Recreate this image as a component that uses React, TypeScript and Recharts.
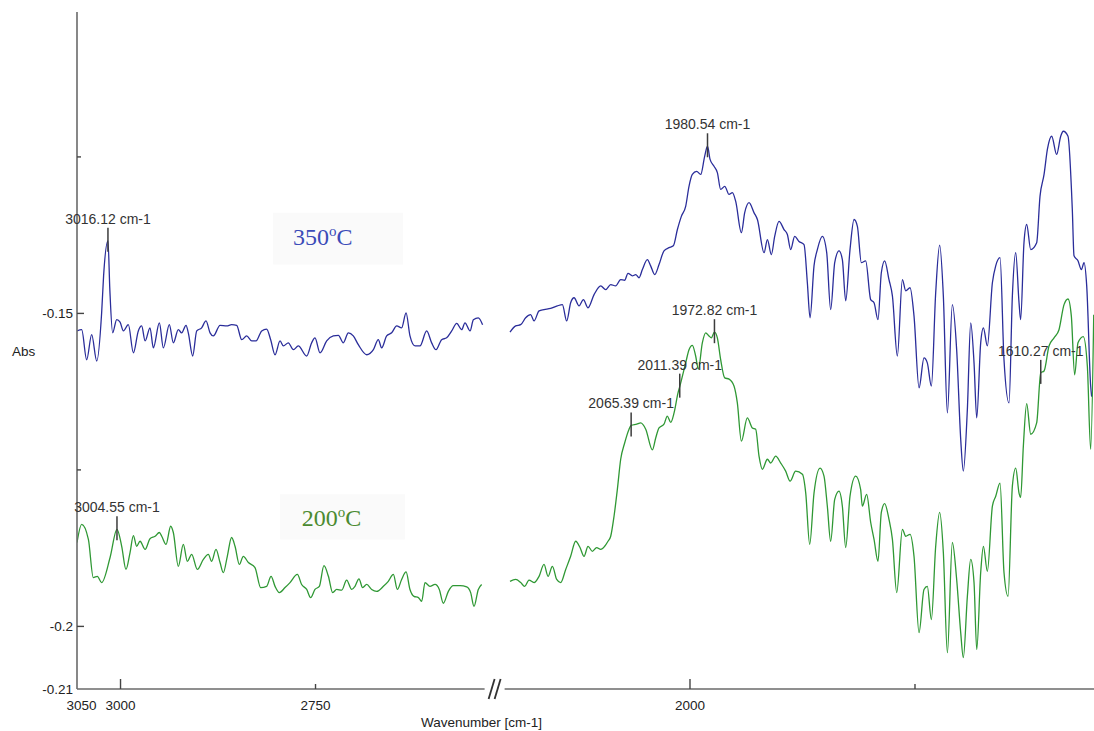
import {
  Line,
  LineChart,
  ReferenceArea,
  ReferenceDot,
  ReferenceLine,
  XAxis,
  YAxis,
} from "recharts"

type Point = [number, number]

// 350 °C spectrum, high wavenumber window (cm-1, Abs)
const abs350High: Point[] = [
  [3055.8, -0.1528], [3049.8, -0.1526], [3043.4, -0.1574], [3037.0, -0.1534],
  [3030.5, -0.1576], [3024.2, -0.1499], [3021.7, -0.144], [3016.12, -0.1384],
  [3013.7, -0.1462], [3010.1, -0.1531], [3004.9, -0.151], [3000.6, -0.1514],
  [2996.3, -0.1528], [2990.0, -0.1518], [2983.5, -0.1563], [2977.2, -0.1528],
  [2972.9, -0.152], [2968.5, -0.1544], [2962.2, -0.1523], [2957.9, -0.1555],
  [2950.2, -0.1515], [2945.1, -0.1555], [2937.4, -0.1518], [2932.3, -0.1547],
  [2925.9, -0.1526], [2921.6, -0.1531], [2916.0, -0.1519], [2913.1, -0.1531],
  [2907.5, -0.1568], [2902.3, -0.1528], [2896.0, -0.1523], [2890.4, -0.1512],
  [2885.2, -0.1531], [2881.0, -0.1536], [2872.4, -0.1519], [2863.9, -0.152],
  [2857.6, -0.1518], [2851.1, -0.1519], [2844.6, -0.1542], [2838.3, -0.1536],
  [2831.8, -0.1544], [2826.3, -0.1544], [2819.0, -0.1528], [2812.7, -0.1525],
  [2807.5, -0.1542], [2801.9, -0.1566], [2795.5, -0.1544], [2791.2, -0.1552],
  [2784.9, -0.1547], [2778.4, -0.1558], [2772.1, -0.1552], [2761.3, -0.1568],
  [2755.0, -0.1547], [2750.7, -0.1539], [2744.2, -0.1563], [2735.7, -0.1544],
  [2727.2, -0.1536], [2720.7, -0.1535], [2714.4, -0.1547], [2707.9, -0.1531],
  [2701.6, -0.1536], [2695.1, -0.155], [2684.4, -0.1566], [2675.8, -0.1558],
  [2669.5, -0.1542], [2665.2, -0.1555], [2658.8, -0.1536], [2652.4, -0.1531],
  [2645.9, -0.152], [2639.6, -0.1523], [2633.9, -0.1499], [2628.9, -0.1536],
  [2622.4, -0.1552], [2616.1, -0.1552], [2607.5, -0.1528], [2601.1, -0.1547],
  [2595.5, -0.1558], [2588.3, -0.1542], [2581.9, -0.1539], [2575.4, -0.1528],
  [2569.0, -0.1516], [2562.6, -0.1526], [2558.4, -0.1515], [2551.9, -0.1528],
  [2547.6, -0.151], [2541.3, -0.1507], [2535.8, -0.1518],
]

// 350 °C spectrum, low wavenumber window
const abs350Low: Point[] = [
  [2200, -0.153], [2193.7, -0.152], [2188.1, -0.1518], [2182.6, -0.1507],
  [2177.0, -0.1502], [2173.3, -0.1512], [2167.7, -0.1496], [2162.2, -0.1494],
  [2154.8, -0.1492], [2147.4, -0.1488], [2141.8, -0.1486], [2137.0, -0.1512],
  [2132.6, -0.1483], [2128.8, -0.1475], [2123.3, -0.1488], [2118.5, -0.1478],
  [2113.3, -0.1491], [2106.6, -0.147], [2099.2, -0.1456], [2093.7, -0.1462],
  [2088.1, -0.1454], [2082.6, -0.1456], [2077.0, -0.1446], [2072.6, -0.1447],
  [2068.9, -0.1436], [2064.0, -0.144], [2060.3, -0.1438], [2056.6, -0.1443],
  [2052.9, -0.143], [2047.4, -0.1414], [2043.7, -0.1424], [2039.2, -0.1438],
  [2034.4, -0.1422], [2028.9, -0.14], [2023.3, -0.1395], [2018.5, -0.1392],
  [2014.0, -0.1366], [2009.6, -0.1345], [2004.8, -0.1329], [2001.1, -0.1297],
  [1997.4, -0.1278], [1992.6, -0.1273], [1988.1, -0.1278], [1983.7, -0.1249],
  [1980.54, -0.1233], [1977.7, -0.1254], [1973.3, -0.1265], [1969.6, -0.1275],
  [1965.9, -0.1302], [1961.4, -0.1297], [1956.6, -0.131], [1952.9, -0.1307],
  [1949.2, -0.1321], [1942.9, -0.1371], [1939.2, -0.1339], [1934.4, -0.1323],
  [1928.9, -0.1339], [1925.1, -0.135], [1917.7, -0.1403], [1914.0, -0.1382],
  [1909.6, -0.1406], [1905.9, -0.1377], [1901.1, -0.1353], [1895.5, -0.1366],
  [1891.8, -0.1374], [1888.1, -0.1398], [1883.7, -0.1377], [1878.9, -0.1385],
  [1873.3, -0.139], [1869.6, -0.1451], [1866.6, -0.1507], [1862.2, -0.1424],
  [1858.5, -0.1398], [1852.9, -0.1377], [1848.1, -0.1403], [1843.7, -0.1494],
  [1839.2, -0.1419], [1834.4, -0.14], [1830.7, -0.1414], [1827.0, -0.148],
  [1822.2, -0.1398], [1817.7, -0.135], [1814.0, -0.1361], [1809.6, -0.1419],
  [1804.8, -0.1416], [1799.2, -0.1478], [1795.5, -0.1483], [1791.1, -0.151],
  [1787.4, -0.1435], [1783.7, -0.1416], [1778.9, -0.1446], [1775.1, -0.1472],
  [1769.6, -0.1568], [1764.0, -0.1446], [1760.3, -0.1464], [1755.5, -0.1459],
  [1751.1, -0.1504], [1745.5, -0.1619], [1740.0, -0.1571], [1736.3, -0.1579],
  [1731.8, -0.1616], [1727.0, -0.1467], [1722.6, -0.1391], [1718.5, -0.1472],
  [1714.0, -0.1659], [1708.5, -0.1486], [1703.7, -0.1558], [1699.2, -0.1701],
  [1696.3, -0.1752], [1691.8, -0.1653], [1688.1, -0.1515], [1684.4, -0.1579],
  [1681.4, -0.1667], [1677.0, -0.1547], [1674.0, -0.1523], [1669.6, -0.1552],
  [1664.0, -0.1451], [1660.3, -0.1424], [1655.5, -0.1411], [1651.1, -0.1574],
  [1645.5, -0.1643], [1641.8, -0.1472], [1638.1, -0.1403], [1634.4, -0.1483],
  [1632.6, -0.151], [1628.9, -0.1387], [1625.9, -0.1358], [1621.4, -0.1398],
  [1614.8, -0.1387], [1611.1, -0.1313], [1606.6, -0.1278], [1602.9, -0.1238],
  [1598.1, -0.1217], [1592.6, -0.1246], [1588.1, -0.1217], [1585.2, -0.1209],
  [1580.0, -0.1217], [1575.2, -0.1334], [1573.3, -0.1408], [1568.9, -0.1416],
  [1565.1, -0.143], [1562.2, -0.1419], [1559.2, -0.1456], [1554.8, -0.1616],
  [1553.7, -0.1633],
]

// 200 °C spectrum, high wavenumber window
const abs200High: Point[] = [
  [3055.8, -0.1866], [3049.8, -0.1837], [3041.2, -0.1861], [3034.9, -0.1922],
  [3029.7, -0.192], [3024.2, -0.193], [3013.4, -0.189], [3004.55, -0.1845],
  [2998.5, -0.1872], [2993.0, -0.1909], [2987.8, -0.1882], [2983.5, -0.1855],
  [2979.3, -0.1872], [2975.0, -0.1864], [2968.5, -0.1877], [2962.2, -0.186],
  [2955.7, -0.1856], [2950.2, -0.185], [2947.2, -0.1856], [2941.7, -0.1869],
  [2935.7, -0.184], [2932.3, -0.185], [2925.9, -0.1904], [2919.5, -0.1869],
  [2914.3, -0.1896], [2908.8, -0.1885], [2901.5, -0.1909], [2893.8, -0.1893],
  [2887.4, -0.1885], [2883.2, -0.1896], [2877.6, -0.1877], [2872.4, -0.1898],
  [2868.2, -0.1914], [2863.1, -0.1888], [2857.6, -0.1858], [2853.2, -0.1872],
  [2847.6, -0.1901], [2842.6, -0.1888], [2836.1, -0.1898], [2827.6, -0.1906],
  [2820.3, -0.1938], [2812.7, -0.1936], [2807.0, -0.192], [2801.9, -0.1936],
  [2796.4, -0.1946], [2789.1, -0.1938], [2782.7, -0.193], [2773.3, -0.1917],
  [2767.8, -0.1933], [2761.3, -0.1941], [2756.2, -0.1954], [2750.7, -0.1941],
  [2745.1, -0.1936], [2739.2, -0.1903], [2733.5, -0.192], [2728.0, -0.1946],
  [2722.9, -0.1941], [2716.4, -0.1942], [2710.1, -0.1926], [2703.6, -0.1941],
  [2699.4, -0.1936], [2694.3, -0.1924], [2689.6, -0.1938], [2684.4, -0.1933],
  [2678.0, -0.1941], [2671.6, -0.1944], [2663.0, -0.1936], [2656.7, -0.1928],
  [2650.2, -0.1917], [2645.1, -0.1941], [2639.6, -0.1925], [2633.9, -0.1913],
  [2628.9, -0.1941], [2623.8, -0.1952], [2618.1, -0.1954], [2613.9, -0.196],
  [2609.6, -0.193], [2603.3, -0.1936], [2596.8, -0.1933], [2591.3, -0.1941],
  [2586.2, -0.1963], [2579.7, -0.1944], [2573.4, -0.1935], [2564.7, -0.1935],
  [2556.2, -0.1937], [2551.1, -0.1946], [2546.8, -0.1968], [2541.3, -0.1941],
  [2537.0, -0.1933],
]

// 200 °C spectrum, low wavenumber window
const abs200Low: Point[] = [
  [2200, -0.1928], [2193.7, -0.1925], [2188.1, -0.193], [2183.7, -0.1936],
  [2178.9, -0.1926], [2173.3, -0.193], [2167.7, -0.192], [2162.2, -0.1901],
  [2157.7, -0.192], [2152.9, -0.1904], [2148.1, -0.1925], [2143.7, -0.193],
  [2138.1, -0.1909], [2132.6, -0.1888], [2127.0, -0.1864], [2122.2, -0.1874],
  [2117.7, -0.1888], [2113.3, -0.1872], [2108.5, -0.188], [2103.7, -0.1874],
  [2099.2, -0.1877], [2094.8, -0.1872], [2091.1, -0.1864], [2088.1, -0.1856],
  [2084.4, -0.1824], [2080.7, -0.1781], [2077.0, -0.1733], [2072.6, -0.1707],
  [2067.7, -0.1685], [2065.39, -0.1679], [2059.2, -0.1677], [2054.8, -0.1675],
  [2049.2, -0.1685], [2041.8, -0.1718], [2038.1, -0.1699], [2034.4, -0.1683],
  [2028.9, -0.1677], [2025.2, -0.1664], [2021.4, -0.1674], [2017.7, -0.1659],
  [2013.3, -0.1627], [2011.39, -0.1617], [2004.8, -0.1579], [2001.1, -0.1558],
  [1997.4, -0.1551], [1993.7, -0.1568], [1990.7, -0.1589], [1986.3, -0.1547],
  [1982.6, -0.1531], [1978.9, -0.1536], [1976.3, -0.1539], [1972.82, -0.153],
  [1969.6, -0.1539], [1965.9, -0.1574], [1961.4, -0.1603], [1956.6, -0.1605],
  [1951.1, -0.1616], [1947.4, -0.1643], [1942.9, -0.1704], [1936.3, -0.1667],
  [1930.7, -0.1683], [1927.0, -0.1685], [1923.3, -0.1728], [1919.6, -0.1749],
  [1914.0, -0.1733], [1910.3, -0.1739], [1904.8, -0.1728], [1899.2, -0.1739],
  [1893.7, -0.1752], [1888.8, -0.1768], [1882.6, -0.1752], [1875.1, -0.1757],
  [1871.4, -0.1787], [1867.0, -0.1869], [1862.2, -0.1787], [1855.5, -0.1747],
  [1851.1, -0.176], [1847.4, -0.1808], [1843.7, -0.1864], [1839.2, -0.1797],
  [1834.4, -0.1784], [1830.7, -0.1808], [1827.0, -0.1874], [1822.2, -0.1792],
  [1815.9, -0.176], [1810.4, -0.1781], [1808.5, -0.1808], [1803.7, -0.1789],
  [1799.2, -0.1834], [1795.5, -0.1861], [1791.1, -0.1896], [1787.4, -0.1818],
  [1783.7, -0.1804], [1778.9, -0.1829], [1775.1, -0.1861], [1770.3, -0.1946],
  [1764.0, -0.1845], [1760.3, -0.1856], [1755.5, -0.1853], [1751.1, -0.1888],
  [1745.5, -0.201], [1740.0, -0.1941], [1736.3, -0.1936], [1731.8, -0.1989],
  [1727.0, -0.1872], [1722.6, -0.1818], [1718.5, -0.1882], [1714.0, -0.2042],
  [1708.5, -0.1866], [1703.7, -0.1925], [1699.2, -0.201], [1696.3, -0.205],
  [1691.8, -0.1952], [1688.1, -0.1893], [1684.4, -0.193], [1681.4, -0.2037],
  [1677.0, -0.1914], [1674.0, -0.1872], [1669.6, -0.1912], [1664.0, -0.1808],
  [1660.3, -0.1792], [1655.5, -0.1771], [1651.1, -0.1914], [1646.6, -0.1952],
  [1641.8, -0.1776], [1638.1, -0.1747], [1634.4, -0.1787], [1632.6, -0.1794],
  [1629.6, -0.1712], [1625.9, -0.1644], [1621.4, -0.1693], [1614.8, -0.1675],
  [1610.27, -0.1595], [1606.6, -0.1592], [1601.1, -0.1552], [1595.5, -0.1539],
  [1590.0, -0.1526], [1584.4, -0.1486], [1580.0, -0.1477], [1576.3, -0.1504],
  [1572.6, -0.1598], [1568.9, -0.1547], [1563.0, -0.1537], [1558.5, -0.1584],
  [1554.8, -0.1717], [1551.4, -0.1502],
]

// peak-pick labels: which trace and which wavenumber
const peakPicks: { trace: "350" | "200"; wavenumber: number }[] = [
  { trace: "350", wavenumber: 3016.12 },
  { trace: "350", wavenumber: 1980.54 },
  { trace: "200", wavenumber: 3004.55 },
  { trace: "200", wavenumber: 2065.39 },
  { trace: "200", wavenumber: 2011.39 },
  { trace: "200", wavenumber: 1972.82 },
  { trace: "200", wavenumber: 1610.27 },
]

const xTickWavenumbers = [3050, 3000, 2750, 2000, 1750]
const xTickLabels = ["3050", "3000", "2750", "2000", ""]
const yTicks = [-0.21, -0.2, -0.175, -0.15, -0.125]
const yTickLabels = ["-0.21", "-0.2", "", "-0.15", ""]

// broken wavenumber axis: each window has its own stretch
const HIGH_START = 3055.8
const HIGH_END = 2535
const HIGH_SCALE = 0.78
const LOW_START = 2200
const LOW_END = 1551.1
const LOW_SCALE = 0.9
const LOW_OFFSET = 433
const Y_MIN = -0.21
const Y_MAX = -0.10185

function toAxis(wn: number) {
  if (wn >= 2400) return (HIGH_START - wn) * HIGH_SCALE
  return LOW_OFFSET + (LOW_START - wn) * LOW_SCALE
}

const X_MAX = toAxis(LOW_END)
const BREAK_AT = (toAxis(HIGH_END) + LOW_OFFSET) / 2

const BLUE = "#2a2d9a"
const GREEN = "#2f9834"
const SANS = "'Liberation Sans', Arial, sans-serif"
const SERIF = "'Liberation Serif', 'Times New Roman', serif"

type Row = { pos: number; abs: number | null }

// one continuous row list per trace, with an empty row where the axis is broken
function traceRows(high: Point[], low: Point[]): Row[] {
  const toRow = ([wn, abs]: Point) => ({ pos: toAxis(wn), abs })
  return [...high.map(toRow), { pos: BREAK_AT, abs: null }, ...low.map(toRow)]
}

const rows350 = traceRows(abs350High, abs350Low)
const rows200 = traceRows(abs200High, abs200Low)

const traces = {
  "350": [...abs350High, ...abs350Low],
  "200": [...abs200High, ...abs200Low],
}

function XTick({ x, y, index }: any) {
  const wn = xTickWavenumbers[index]
  const size = wn === 3000 || wn === 2000 ? 10 : wn === 3050 ? 0 : 5
  return (
    <g>
      {size > 0 ? (
        <line x1={x} x2={x} y1={y} y2={y - size} stroke="#444" strokeWidth={1.4} />
      ) : null}
      <text x={x} y={y + 21} textAnchor="middle" fontSize={13.5} fill="#222" fontFamily={SANS}>
        {xTickLabels[index]}
      </text>
    </g>
  )
}

function YTick({ x, y, index }: any) {
  const label = yTickLabels[index]
  const size = index === 0 ? 0 : label ? 7 : 4
  return (
    <g>
      {size > 0 ? (
        <line x1={x} x2={x + size} y1={y} y2={y} stroke="#444" strokeWidth={1.4} />
      ) : null}
      <text x={x - 4} y={y + 5} textAnchor="end" fontSize={13.5} fill="#222" fontFamily={SANS}>
        {label}
      </text>
    </g>
  )
}

function PeakMark({ cx, cy, text }: { cx: number; cy: number; text: string }) {
  return (
    <g>
      <line x1={cx} x2={cx} y1={cy - 13} y2={cy + 11} stroke="#3c3c3c" strokeWidth={1.5} />
      <text x={cx} y={cy - 17} textAnchor="middle" fontSize={14} fill="#333" fontFamily={SANS}>
        {text}
      </text>
    </g>
  )
}

function TempLabel({ cx, cy, value, color }: any) {
  return (
    <text x={cx} y={cy} fill={color} fontSize={24} fontFamily={SERIF}>
      {value}
      <tspan fontSize={15} dy={-9}>o</tspan>
      <tspan dy={9}>C</tspan>
    </text>
  )
}

function BreakMark({ cx, cy }: any) {
  return (
    <g stroke="#333" strokeWidth={1.8}>
      <line x1={cx - 8} y1={cy + 10} x2={cx - 2} y2={cy - 10} />
      <line x1={cx - 2} y1={cy + 10} x2={cx + 4} y2={cy - 10} />
    </g>
  )
}

function XTitle({ viewBox }: any) {
  return (
    <text x={viewBox.x + 344} y={viewBox.y + 38} fontSize={13.5} fill="#222" fontFamily={SANS}>
      Wavenumber [cm-1]
    </text>
  )
}

function YTitle({ viewBox }: any) {
  return (
    <text x={viewBox.x + 12} y={viewBox.y + viewBox.height / 2 + 5} fontSize={13.5} fill="#222" fontFamily={SANS}>
      Abs
    </text>
  )
}

export default function App() {
  return (
    <div style={{ position: "fixed", left: 0, top: 0, width: 1094, height: 731, background: "#fff" }}>
      <LineChart width={1094} height={731} margin={{ top: 12, right: 0, bottom: 0, left: 0 }}>
        <XAxis
          type="number"
          dataKey="pos"
          domain={[0, X_MAX]}
          ticks={xTickWavenumbers.map(toAxis)}
          height={42}
          axisLine={false}
          tickLine={false}
          tickSize={0}
          tickMargin={0}
          tick={<XTick />}
          interval={0}
          allowDataOverflow
          label={<XTitle />}
        />
        <YAxis
          type="number"
          domain={[Y_MIN, Y_MAX]}
          ticks={yTicks}
          width={77}
          axisLine={{ stroke: "#6a6a6a", strokeWidth: 1.6 }}
          tickLine={false}
          tickSize={0}
          tickMargin={0}
          tick={<YTick />}
          interval={0}
          allowDataOverflow
          label={<YTitle />}
        />

        {/* pale boxes behind the temperature captions */}
        <ReferenceArea
          x1={toAxis(2804.5)}
          x2={toAxis(2637.8)}
          y1={-0.1422}
          y2={-0.1339}
          fill="#fafafa"
          fillOpacity={1}
          stroke="none"
          ifOverflow="visible"
        />
        <ReferenceArea
          x1={toAxis(2795.5)}
          x2={toAxis(2635.3)}
          y1={-0.1861}
          y2={-0.1789}
          fill="#fafafa"
          fillOpacity={1}
          stroke="none"
          ifOverflow="visible"
        />

        {/* x axis drawn in two pieces around the break */}
        <ReferenceLine
          segment={[{ x: 0, y: Y_MIN }, { x: BREAK_AT - 12, y: Y_MIN }]}
          stroke="#6a6a6a"
          strokeWidth={1.6}
          ifOverflow="visible"
        />
        <ReferenceLine
          segment={[{ x: BREAK_AT + 8, y: Y_MIN }, { x: X_MAX, y: Y_MIN }]}
          stroke="#6a6a6a"
          strokeWidth={1.6}
          ifOverflow="visible"
        />
        <ReferenceDot x={BREAK_AT} y={Y_MIN} ifOverflow="visible" shape={(p: any) => <BreakMark cx={p.cx} cy={p.cy} />} />

        <Line
          data={rows350}
          dataKey="abs"
          name="350"
          type="monotone"
          stroke={BLUE}
          strokeWidth={1.3}
          dot={false}
          activeDot={false}
          isAnimationActive={false}
        />
        <Line
          data={rows200}
          dataKey="abs"
          name="200"
          type="monotone"
          stroke={GREEN}
          strokeWidth={1.3}
          dot={false}
          activeDot={false}
          isAnimationActive={false}
        />

        {peakPicks.map((pick) => {
          const abs = traces[pick.trace].find(([wn]) => wn === pick.wavenumber)?.[1] ?? 0
          return (
            <ReferenceDot
              key={`${pick.trace}-${pick.wavenumber}`}
              x={toAxis(pick.wavenumber)}
              y={abs}
              ifOverflow="visible"
              shape={(p: any) => (
                <PeakMark cx={p.cx} cy={p.cy} text={`${pick.wavenumber.toFixed(2)} cm-1`} />
              )}
            />
          )
        })}

        <ReferenceDot
          x={toAxis(2778.9)}
          y={-0.139}
          ifOverflow="visible"
          shape={(p: any) => <TempLabel cx={p.cx} cy={p.cy} value="350" color="#3b4bb8" />}
        />
        <ReferenceDot
          x={toAxis(2767.7)}
          y={-0.184}
          ifOverflow="visible"
          shape={(p: any) => <TempLabel cx={p.cx} cy={p.cy} value="200" color="#4a8a30" />}
        />
      </LineChart>
    </div>
  )
}
